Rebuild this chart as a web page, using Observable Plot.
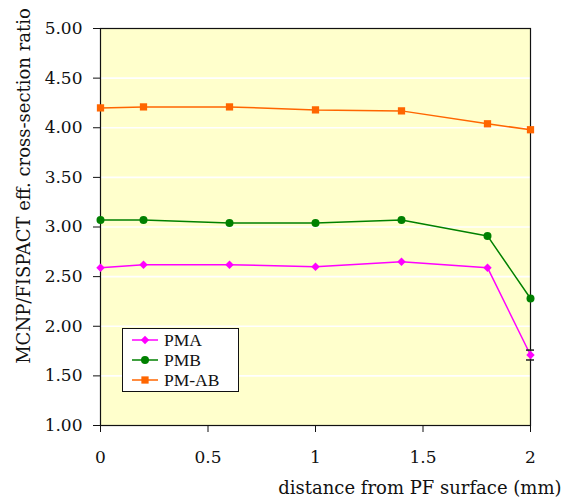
<!DOCTYPE html>
<html>
<head>
<meta charset="utf-8">
<script src="https://cdn.jsdelivr.net/npm/d3@7"></script>
<script src="https://cdn.jsdelivr.net/npm/@observablehq/plot@0.6"></script>
<style>
  html, body { margin: 0; padding: 0; background: white; }
  #chart { position: relative; width: 571px; height: 501px; }
  #legend {
    position: absolute; left: 122px; top: 328px; width: 115px; height: 61px;
    background: white; border: 1px solid #111; box-sizing: content-box;
    font-family: "Liberation Serif", serif; font-size: 17.5px; color: #111;
    padding-top: 1px;
  }
  #legend .row { display: flex; align-items: center; height: 20.2px; line-height: 20.2px; }
  #legend svg { margin-left: 9px; margin-right: 6px; }
</style>
</head>
<body>
<div id="chart"></div>
<script>
// Distance from the plasma-facing surface (mm)
const distance = [0, 0.2, 0.6, 1.0, 1.4, 1.8, 2.0];

// MCNP/FISPACT effective cross-section ratios
const pma  = [2.59, 2.62, 2.62, 2.60, 2.65, 2.59, 1.71];
const pmb  = [3.07, 3.07, 3.04, 3.04, 3.07, 2.91, 2.28];
const pmab = [4.20, 4.21, 4.21, 4.18, 4.17, 4.04, 3.98];

// Uncertainty on the deepest PMA point
const pmaErrX = 2.0;
const pmaErrLo = 1.66;
const pmaErrHi = 1.76;

const seriesNames = ["PMA", "PMB", "PM-AB"];
const seriesColors = ["#ff00ff", "#008000", "#ff6600"];
const seriesSymbols = ["diamond2", "circle", "square"];
const seriesRadius = [3.8, 4, 4.1];

const xTicks = [0, 0.5, 1, 1.5, 2];
const yTicks = [1, 1.5, 2, 2.5, 3, 3.5, 4, 4.5, 5];

const xTitle = "distance from PF surface (mm)";
const yTitle = "MCNP/FISPACT eff. cross-section ratio";

const values = [pma, pmb, pmab];
const rows = values.flatMap((vals, s) =>
  vals.map((v, i) => ({series: seriesNames[s], x: distance[i], y: v}))
);

const tickFont = "DejaVu Serif, serif";
const titleFont = "DejaVu Serif, serif";

const plot = Plot.plot({
  width: 571,
  height: 501,
  marginLeft: 100,
  marginRight: 41,
  marginTop: 28,
  marginBottom: 76,
  style: {background: "white", color: "#111", fontFamily: tickFont},
  x: {domain: [0, 2], ticks: xTicks},
  y: {domain: [1, 5], ticks: yTicks},
  marks: [
    Plot.frame({fill: "#ffffcc", stroke: null}),
    Plot.gridY(yTicks.slice(1, -1), {stroke: "white", strokeOpacity: 1, strokeWidth: 1.6}),
    Plot.frame({stroke: "#111", strokeWidth: 1.2}),
    Plot.axisY({
      ticks: yTicks, tickSize: 7, tickPadding: 11, tickFormat: d3.format(".2f"),
      fontSize: 17, label: null, stroke: "#111"
    }),
    Plot.axisX({
      ticks: xTicks, tickSize: 7, tickPadding: 18, tickFormat: d => String(d),
      fontSize: 17, label: null, stroke: "#111"
    }),
    Plot.line(rows, {x: "x", y: "y", z: "series", stroke: d => seriesColors[seriesNames.indexOf(d.series)], strokeWidth: 1.5}),
    Plot.ruleX([{x: pmaErrX, y1: pmaErrLo, y2: pmaErrHi}], {x: "x", y1: "y1", y2: "y2", stroke: "#222", strokeWidth: 1.2}),
    Plot.ruleY([pmaErrLo, pmaErrHi], {x1: pmaErrX, x2: pmaErrX, insetLeft: -4, insetRight: -4, stroke: "#222", strokeWidth: 1.5}),
    ...seriesNames.map((name, s) =>
      Plot.dot(rows.filter(d => d.series === name), {
        x: "x", y: "y", fill: seriesColors[s], stroke: null,
        symbol: () => seriesSymbols[s], r: seriesRadius[s]
      })
    ),
    Plot.text([yTitle], {
      frameAnchor: "left", textAnchor: "middle", rotate: -90, dx: -76, dy: -41,
      fontSize: 18, fontFamily: titleFont, fill: "#111"
    }),
    Plot.text([xTitle], {
      frameAnchor: "bottom-right", textAnchor: "end", dx: 31, dy: 68,
      fontSize: 18, fontFamily: titleFont, fill: "#111"
    })
  ]
});

const chart = document.getElementById("chart");
chart.appendChild(plot);

// Legend box drawn inside the plotting area
const legend = document.createElement("div");
legend.id = "legend";
seriesNames.forEach((name, s) => {
  const row = document.createElement("div");
  row.className = "row";
  const sw = d3.create("svg").attr("width", 26).attr("height", 12);
  sw.append("line").attr("x1", 0).attr("x2", 26).attr("y1", 6).attr("y2", 6)
    .attr("stroke", seriesColors[s]).attr("stroke-width", 1.5);
  const symType = {diamond2: d3.symbolDiamond2, circle: d3.symbolCircle, square: d3.symbolSquare}[seriesSymbols[s]];
  sw.append("path")
    .attr("transform", "translate(13,6)")
    .attr("d", d3.symbol(symType, Math.PI * seriesRadius[s] ** 2)())
    .attr("fill", seriesColors[s]);
  row.appendChild(sw.node());
  const label = document.createElement("span");
  label.textContent = name;
  row.appendChild(label);
  legend.appendChild(row);
});
chart.appendChild(legend);
</script>
</body>
</html>
